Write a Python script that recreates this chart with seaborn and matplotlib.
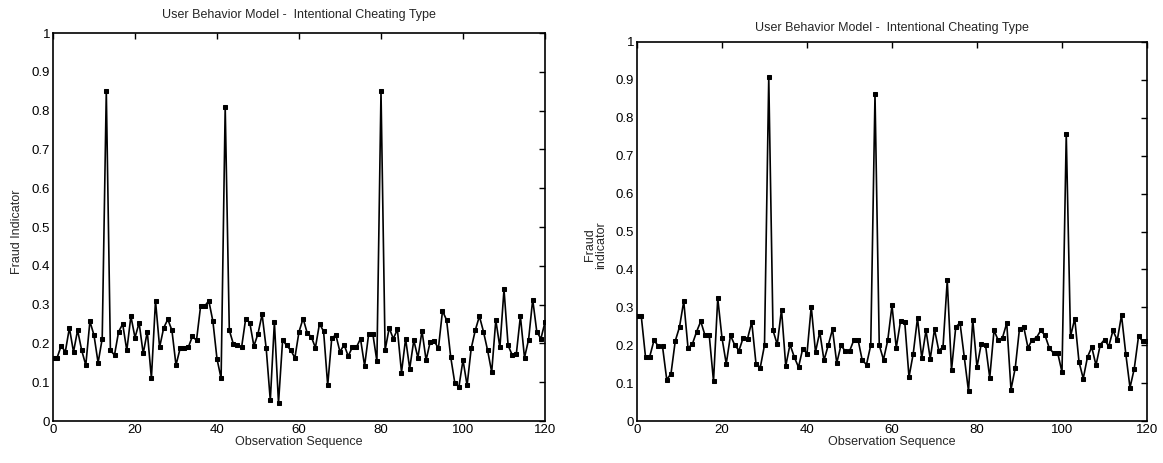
import numpy as np
import pandas as pd
import matplotlib
matplotlib.use("Agg")
import matplotlib.pyplot as plt
import seaborn as sns

# Observation index shared by both panels
observation = list(range(121))

# Fraud indicator, left panel
fraud_left = [
    0.163, 0.163, 0.194, 0.178, 0.240, 0.178, 0.234, 0.182, 0.144, 0.257,
    0.221, 0.150, 0.212, 0.850, 0.182, 0.170, 0.230, 0.250, 0.182, 0.270,
    0.215, 0.253, 0.174, 0.230, 0.110, 0.310, 0.190, 0.240, 0.262, 0.234,
    0.144, 0.187, 0.187, 0.190, 0.218, 0.208, 0.296, 0.296, 0.310, 0.257,
    0.160, 0.110, 0.810, 0.234, 0.198, 0.195, 0.190, 0.264, 0.253, 0.193,
    0.225, 0.275, 0.187, 0.053, 0.255, 0.046, 0.208, 0.195, 0.182, 0.163,
    0.230, 0.264, 0.227, 0.217, 0.189, 0.251, 0.231, 0.092, 0.215, 0.221,
    0.178, 0.197, 0.167, 0.190, 0.190, 0.212, 0.142, 0.225, 0.225, 0.154,
    0.850, 0.182, 0.240, 0.212, 0.236, 0.125, 0.212, 0.135, 0.208, 0.163,
    0.232, 0.157, 0.204, 0.206, 0.187, 0.284, 0.260, 0.165, 0.098, 0.088,
    0.157, 0.092, 0.187, 0.234, 0.270, 0.230, 0.182, 0.126, 0.260, 0.190,
    0.339, 0.195, 0.170, 0.172, 0.270, 0.163, 0.210, 0.313, 0.230, 0.212,
    0.255,
]

# Fraud indicator, right panel
fraud_right = [
    0.277, 0.277, 0.169, 0.170, 0.213, 0.198, 0.197, 0.109, 0.125, 0.211,
    0.248, 0.316, 0.193, 0.202, 0.235, 0.263, 0.226, 0.226, 0.105, 0.324,
    0.219, 0.151, 0.226, 0.200, 0.186, 0.220, 0.217, 0.261, 0.151, 0.141,
    0.200, 0.907, 0.239, 0.202, 0.294, 0.145, 0.202, 0.169, 0.142, 0.191,
    0.178, 0.302, 0.182, 0.235, 0.160, 0.200, 0.242, 0.153, 0.200, 0.184,
    0.184, 0.213, 0.215, 0.160, 0.149, 0.200, 0.862, 0.200, 0.162, 0.213,
    0.305, 0.193, 0.263, 0.261, 0.116, 0.178, 0.272, 0.166, 0.239, 0.164,
    0.242, 0.186, 0.195, 0.371, 0.134, 0.248, 0.259, 0.169, 0.079, 0.267,
    0.142, 0.204, 0.201, 0.114, 0.239, 0.213, 0.220, 0.258, 0.083, 0.140,
    0.244, 0.248, 0.193, 0.215, 0.220, 0.239, 0.226, 0.193, 0.179, 0.179,
    0.129, 0.757, 0.223, 0.270, 0.156, 0.112, 0.169, 0.195, 0.147, 0.201,
    0.215, 0.197, 0.239, 0.213, 0.279, 0.178, 0.088, 0.138, 0.223, 0.211,
    0.211,
]

title_text = "User Behavior Model -  Intentional Cheating Type"
x_label = "Observation Sequence"
y_labels = ["Fraud Indicator", "Fraud\nindicator"]
x_ticks = [0, 20, 40, 60, 80, 100, 120]
y_ticks = [0, 0.1, 0.2, 0.3, 0.4, 0.5, 0.6, 0.7, 0.8, 0.9, 1]
y_ticklabels = ["0", "0.1", "0.2", "0.3", "0.4", "0.5", "0.6", "0.7", "0.8", "0.9", "1"]

sns.set_style("white")
plt.rcParams["font.family"] = ["Liberation Sans", "DejaVu Sans"]

W, H = 1163, 463
fig = plt.figure(figsize=(W / 100, H / 100), dpi=100)

# axes rectangles in pixels: left, top, right, bottom
boxes = [(53, 33, 545, 421), (637, 42, 1147, 421)]
title_y = [15, 28]

for i, (vals, box) in enumerate(zip([fraud_left, fraud_right], boxes)):
    l, t, r, b = box
    ax = fig.add_axes([l / W, 1 - b / H, (r - l) / W, (b - t) / H])
    df = pd.DataFrame({"obs": observation, "fraud": vals})
    sns.lineplot(data=df, x="obs", y="fraud", ax=ax, color="black",
                 linewidth=1.2, marker="s", markersize=3.4,
                 markeredgecolor="black", markerfacecolor="black")
    ax.set_xlim(0, 120)
    ax.set_ylim(0, 1)
    ax.set_xticks(x_ticks)
    ax.set_xticklabels([str(v) for v in x_ticks])
    ax.set_yticks(y_ticks)
    ax.set_yticklabels(y_ticklabels)
    ax.tick_params(direction="in", length=4, width=1, top=True, right=True,
                   labelsize=9.5, pad=2, colors="black")
    for s in ax.spines.values():
        s.set_color("black")
        s.set_linewidth(1.2)
    ax.set_xlabel(x_label, fontsize=9, labelpad=0)
    ax.set_ylabel("")
    fig.text((l + r) / 2 / W, 1 - title_y[i] / H, title_text,
             ha="center", va="center", fontsize=9)

fig.text(17 / W, 1 - 232 / H, y_labels[0], rotation=90,
         ha="center", va="center", fontsize=9)
fig.text(596 / W, 1 - 245 / H, y_labels[1], rotation=90,
         ha="center", va="center", fontsize=9, linespacing=0.9)

fig.savefig("out.png", dpi=100, facecolor="white")
